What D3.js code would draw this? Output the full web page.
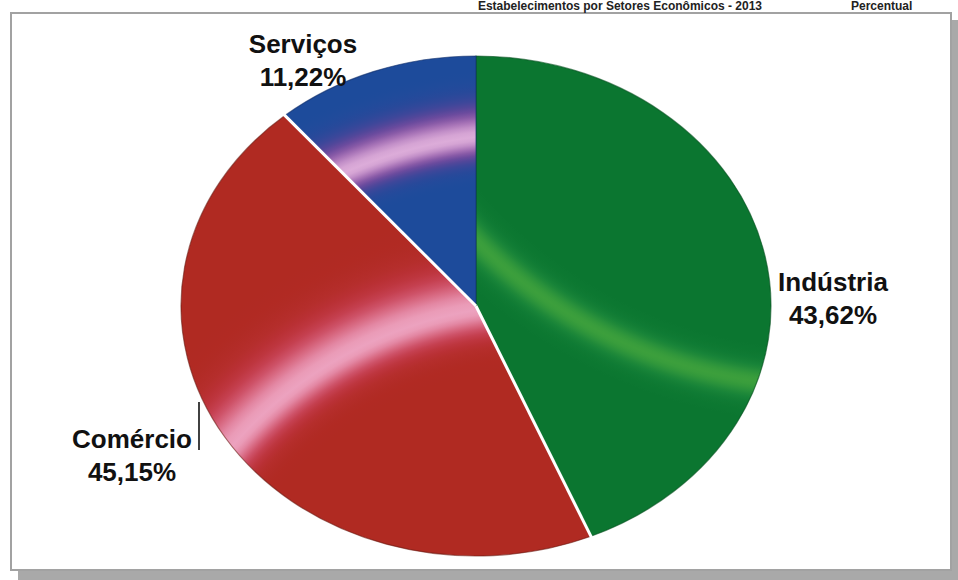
<!DOCTYPE html>
<html>
<head>
<meta charset="utf-8">
<script src="https://cdn.jsdelivr.net/npm/d3@7/dist/d3.min.js"></script>
<style>
  html, body { margin: 0; padding: 0; background: #ffffff; }
  svg { display: block; }
  text { font-family: "Liberation Sans", Arial, sans-serif; }
</style>
</head>
<body>
<svg id="chart" width="958" height="580"></svg>
<script>
// ---- data ----
const categories = ["Indústria", "Comércio", "Serviços"];
const values = [43.62, 45.15, 11.22];
const titleText = "Estabelecimentos por Setores Econômicos - 2013";
const unitText = "Percentual";

// ---- style / layout ----
const W = 958, H = 580;
const cx = 476, cy = 306, rx = 295, ry = 250;
const rimColors = ["#06501f", "#6a1a12", "#12306a"];
// glossy band per slice: centre offset (from pie centre), band radius, softness, colours (base → mid → highlight)
const bands = [
  { dx: 349, dy: -412, R: 492, sIn: 18, sOut: 18, cols: ["#0b7630", "#17843a", "#3c9f3c"] },
  { dx: 65,  dy: 407,  R: 408, sIn: 26, sOut: 40, cols: ["#b02a22", "#c83a52", "#eca2bf"] },
  { dx: 54,  dy: 294,  R: 466, sIn: 20, sOut: 27, cols: ["#1d4b9b", "#7a3d96", "#dcacd9"] }
];
// label anchors (x centre, first baseline)
const labelLayout = [
  { x: 833, y: 291 },
  { x: 132, y: 448 },
  { x: 303, y: 53 }
];
const lineGap = 33;

const fmt = d3.formatLocale({ decimal: ",", thousands: ".", grouping: [3], currency: ["R$", ""] }).format(".2f");

const svg = d3.select("#chart");
const defs = svg.append("defs");

// frame with shadow
svg.append("rect").attr("x", 18).attr("y", 20).attr("width", 940).attr("height", 560).attr("fill", "#a9a9a9");
svg.append("rect").attr("x", 11).attr("y", 13).attr("width", 940).attr("height", 557)
  .attr("fill", "#ffffff").attr("stroke", "#a2a2a2").attr("stroke-width", 2);

// title in the thin strip above the frame
svg.append("text").attr("x", 762).attr("y", 10).attr("text-anchor", "end")
  .attr("font-size", 12).attr("font-weight", "bold").attr("fill", "#222").text(titleText);
svg.append("text").attr("x", 851).attr("y", 10).attr("text-anchor", "start")
  .attr("font-size", 12).attr("font-weight", "bold").attr("fill", "#222").text(unitText);

const pie = d3.pie().sort(null).value(d => d.value).startAngle(0).endAngle(2 * Math.PI);
const data = categories.map((c, i) => ({ name: c, value: values[i], i }));
const arcs = pie(data);

const arc = d3.arc().innerRadius(0).outerRadius(ry);
const pieTransform = `translate(${cx},${cy}) scale(${rx / ry},1)`;

// gradients (soft glossy band)
arcs.forEach((a, i) => {
  const b = bands[i];
  const G = b.R + 4 * Math.max(b.sIn, b.sOut);
  const col = d3.interpolateRgbBasis(b.cols);
  const g = defs.append("radialGradient").attr("id", "grad" + i)
    .attr("gradientUnits", "userSpaceOnUse")
    .attr("cx", cx + b.dx).attr("cy", cy + b.dy).attr("r", G)
    .attr("fx", cx + b.dx).attr("fy", cy + b.dy);
  g.append("stop").attr("offset", 0).attr("stop-color", b.cols[0]);
  for (let k = -16; k <= 16; k++) {
    const s = k < 0 ? b.sIn : b.sOut;
    const d = (k / 16) * 3 * s;
    const t = Math.exp(-(d / s) * (d / s));
    g.append("stop").attr("offset", (b.R + d) / G).attr("stop-color", col(t));
  }
  g.append("stop").attr("offset", 1).attr("stop-color", b.cols[0]);

  defs.append("clipPath").attr("id", "clip" + i)
    .append("path").attr("d", arc(a)).attr("transform", pieTransform);
});

const slices = svg.append("g").attr("class", "slices");
arcs.forEach((a, i) => {
  slices.append("rect")
    .attr("x", cx - rx - 5).attr("y", cy - ry - 5)
    .attr("width", 2 * rx + 10).attr("height", 2 * ry + 10)
    .attr("fill", `url(#grad${i})`)
    .attr("clip-path", `url(#clip${i})`);
  slices.append("path")
    .attr("d", arc(a)).attr("transform", pieTransform)
    .attr("fill", "none").attr("stroke", rimColors[i]).attr("stroke-width", 1.2)
    .attr("stroke-opacity", 0.6)
    .attr("vector-effect", "non-scaling-stroke");
});

// white separators at slice boundaries (except the top one)
arcs.slice(0, -1).forEach(a => {
  const t = a.endAngle;
  slices.append("line")
    .attr("x1", cx).attr("y1", cy)
    .attr("x2", cx + (rx + 2) * Math.sin(t)).attr("y2", cy - (ry + 2) * Math.cos(t))
    .attr("stroke", "#ffffff").attr("stroke-width", 3);
});

// labels
const labG = svg.append("g").attr("class", "labels");
arcs.forEach((a, i) => {
  const L = labelLayout[i];
  const t = labG.append("text").attr("text-anchor", "middle")
    .attr("font-size", 26).attr("font-weight", "bold").attr("fill", "#111");
  t.append("tspan").attr("x", L.x).attr("y", L.y).text(a.data.name);
  t.append("tspan").attr("x", L.x).attr("y", L.y + lineGap).text(fmt(a.data.value) + "%");
});

// leader line for Comércio
labG.append("line").attr("x1", 199).attr("y1", 402).attr("x2", 199).attr("y2", 450)
  .attr("stroke", "#111").attr("stroke-width", 1.6);
</script>
</body>
</html>
